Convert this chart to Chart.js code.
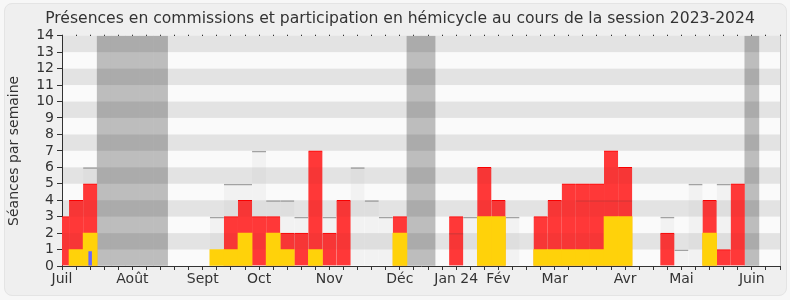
<!DOCTYPE html>
<html><head><meta charset="utf-8">
<script src="https://cdn.jsdelivr.net/npm/chart.js@4.4.0/dist/chart.umd.min.js"></script>
<style>
html,body{margin:0;padding:0;background:#f7f7f7;overflow:hidden}
#wrap{position:relative;width:790px;height:300px}
#frame{position:absolute;left:4px;top:3px;width:783px;height:293px;background:#efefef;border:1px solid #e4e4e4;border-radius:8px;box-sizing:border-box}
#c{position:absolute;left:0;top:0}
</style></head>
<body>
<div id="wrap"><div id="frame"></div><canvas id="c" width="790" height="300"></canvas></div>
<script>
const weekLabels = ['Juil','','','','','Août','','','','','Sept','','','','Oct','','','','','Nov','','','','','Déc','','','','Jan 24','','','Fév','','','','Mar','','','','','Avr','','','','Mai','','','','','Juin','',''];
const commissions = [3,4,5,null,null,null,null,null,null,null,null,null,3,4,3,3,2,2,7,2,4,null,null,null,3,null,null,null,3,null,6,4,null,null,3,4,5,5,5,7,6,null,null,2,null,null,4,1,5,null,null,null];
const hemicycle = [null,1,2,null,null,null,null,null,null,null,null,1,1,2,null,2,1,null,1,null,null,null,null,null,2,null,null,null,null,null,3,3,null,null,1,1,1,1,1,3,3,null,null,null,null,null,2,null,null,null,null,null];
const questions = [null,null,0.9,null,null,null,null,null,null,null,null,null,null,null,null,null,null,null,null,null,null,null,null,null,null,null,null,null,null,null,null,null,null,null,null,null,null,null,null,null,null,null,null,null,null,null,null,null,null,null,null,null];
const seances = [null,null,6,null,null,null,null,null,null,null,null,3,5,5,7,4,4,3,null,3,null,6,4,3,null,null,null,null,2,3,null,null,3,null,null,null,null,4,4,4,4,null,null,3,1,5,null,5,null,null,null,null];
const vacances = [null,null,null,14,14,14,14,14,null,null,null,null,null,null,null,null,null,null,null,null,null,null,null,null,null,14,14,null,null,null,null,null,null,null,null,null,null,null,null,null,null,null,null,null,null,null,null,null,null,14,null,null];
const yMax = 14;

Chart.defaults.font.family = 'DejaVu Sans';
Chart.defaults.color = '#333';

function drawBands(chart, alpha) {
  const {ctx, chartArea: a, scales: {y}} = chart;
  ctx.save();
  ctx.fillStyle = 'rgba(0,0,0,' + alpha + ')';
  for (let v = 1; v < yMax; v += 2) {
    const p1 = y.getPixelForValue(v + 1), p0 = y.getPixelForValue(v);
    ctx.fillRect(a.left, p1, a.right - a.left, p0 - p1);
  }
  ctx.restore();
}

const bands = {
  id: 'bands',
  beforeDraw(chart) {
    const {ctx, chartArea: a} = chart;
    ctx.save();
    ctx.fillStyle = '#fafafa';
    ctx.fillRect(a.left, a.top, a.right - a.left, a.bottom - a.top);
    ctx.restore();
  },
  afterDatasetDraw(chart, args) {
    if (args.index === 0) drawBands(chart, 0.057);
    if (args.index === 2) drawBands(chart, 0.03);
  },
  afterDatasetsDraw(chart) {
    const {ctx, chartArea: a} = chart;
    ctx.save();
    ctx.strokeStyle = '#c4c4c4';
    ctx.lineWidth = 1;
    ctx.beginPath();
    ctx.moveTo(Math.round(a.right) + 0.5, a.top);
    ctx.lineTo(Math.round(a.right) + 0.5, a.bottom);
    ctx.stroke();
    ctx.restore();
  }
};

const common = {grouped: false, categoryPercentage: 1, barPercentage: 1, clip: 0};
const topOnly = (w) => ({top: w, right: 0, bottom: 0, left: 0});

new Chart(document.getElementById('c'), {
  type: 'bar',
  data: {
    labels: weekLabels,
    datasets: [
      Object.assign({label: 'Vacances', data: vacances, backgroundColor: '#bdbdbd', order: 6}, common),
      Object.assign({label: 'Séances', data: seances, backgroundColor: 'rgba(200,200,200,0.15)', borderColor: 'rgb(182,182,182)', borderWidth: topOnly(1.5), borderSkipped: false, inflateAmount: 0, order: 5}, common),
      Object.assign({label: 'Commissions', data: commissions, backgroundColor: '#ff3838', borderColor: '#ff0000', borderWidth: topOnly(1), borderSkipped: false, order: 4}, common),
      Object.assign({label: 'Séances (repère)', data: seances, backgroundColor: 'rgba(0,0,0,0)', borderColor: 'rgba(60,60,60,0.16)', borderWidth: topOnly(1.5), borderSkipped: false, inflateAmount: 0, order: 3}, common),
      Object.assign({label: 'Hémicycle', data: hemicycle, backgroundColor: '#ffd20a', order: 2}, common),
      Object.assign({label: 'Questions', data: questions, backgroundColor: '#6666ff', order: 1}, common, {barPercentage: 0.25})
    ]
  },
  options: {
    responsive: false,
    animation: false,
    layout: {padding: {left: 10, right: 0, top: 0, bottom: 0}},
    plugins: {
      legend: {display: false},
      tooltip: {enabled: false},
      title: {
        display: true,
        text: 'Présences en commissions et participation en hémicycle au cours de la session 2023-2024',
        font: {size: 15.6, weight: 'normal'},
        color: '#333',
        padding: {top: 10, bottom: 6}
      }
    },
    scales: {
      x: {
        type: 'category',
        offset: false,
        grid: {display: true, drawOnChartArea: false, offset: false, tickLength: 4, color: '#333'},
        border: {display: true, color: '#333'},
        ticks: {autoSkip: false, maxRotation: 0, font: {size: 14}, color: '#333', padding: 1},
        afterFit(s) { s.height = 34; }
      },
      x2: {
        type: 'category',
        position: 'top',
        offset: false,
        grid: {display: true, drawOnChartArea: false, offset: false, tickLength: 1, color: '#333'},
        border: {display: false},
        ticks: {display: false},
        afterFit(s) { s.height = 1; }
      },
      y: {
        min: 0, max: yMax,
        ticks: {stepSize: 1, autoSkip: false, font: {size: 14}, color: '#333', padding: 3},
        grid: {drawOnChartArea: false, tickLength: 5, color: '#333'},
        border: {display: true, color: '#333'},
        title: {display: true, text: 'Séances par semaine', font: {size: 14}, color: '#333', padding: {top: -4, bottom: 0}},
        afterFit(s) { s.width = 52; }
      },
      y2: {
        position: 'right',
        min: 0, max: yMax,
        ticks: {display: false},
        grid: {display: false},
        border: {display: false},
        afterFit(s) { s.width = 10; }
      }
    }
  },
  plugins: [bands]
});
</script>
</body></html>
